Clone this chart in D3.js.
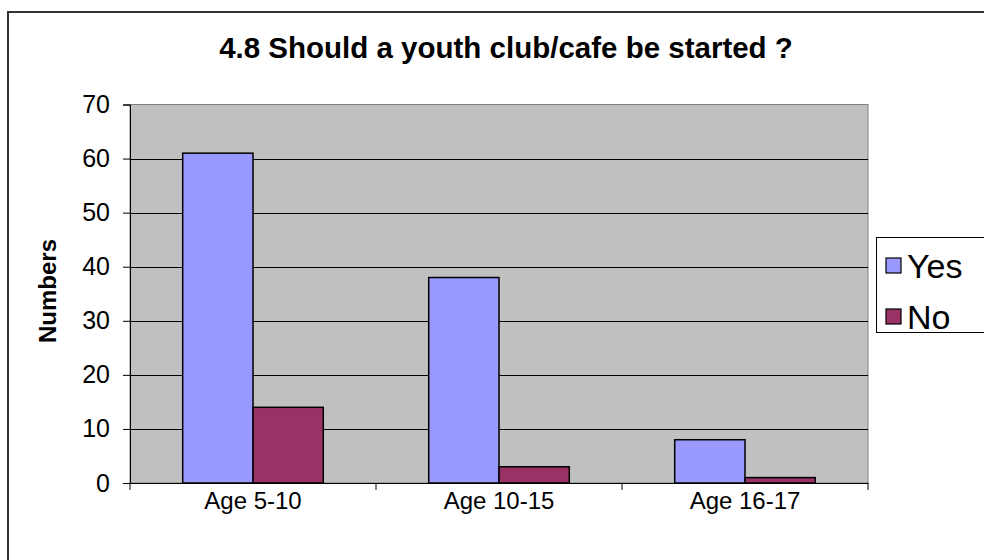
<!DOCTYPE html>
<html><head><meta charset="utf-8">
<script src="https://cdn.jsdelivr.net/npm/d3@7"></script>
<style>body{margin:0;background:#fff}svg{display:block}</style>
</head><body>
<svg id="c" width="984" height="560"></svg>
<script>
const categories = ["Age 5-10", "Age 10-15", "Age 16-17"];
const seriesNames = ["Yes", "No"];
const yesValues = [61, 38, 8];
const noValues = [14, 3, 1];
const yTicks = [0, 10, 20, 30, 40, 50, 60, 70];
const colors = {Yes: "#9999FF", No: "#993366"};

const svg = d3.select("#c");
const font = "Arial, 'Liberation Sans', sans-serif";

// outer chart border
svg.append("rect").attr("x", 8).attr("y", 12).attr("width", 1000).attr("height", 600)
  .attr("fill", "#fff").attr("stroke", "#333").attr("stroke-width", 2);

const plot = {left: 130, right: 868, top: 104.5, bottom: 483};
const x = d3.scaleBand().domain(categories).range([plot.left, plot.right]).paddingInner(0).paddingOuter(0);
const y = d3.scaleLinear().domain([0, 70]).range([plot.bottom, plot.top]);
const inner = d3.scaleBand().domain(seriesNames).range([0, x.bandwidth()]).paddingOuter(0.75).paddingInner(0);

svg.append("rect").attr("x", plot.left).attr("y", plot.top)
  .attr("width", plot.right - plot.left).attr("height", plot.bottom - plot.top)
  .attr("fill", "#C0C0C0").attr("stroke", "#808080").attr("stroke-width", 1);

// gridlines
svg.append("g").selectAll("line").data(yTicks.filter(d => d > 0 && d < 70)).join("line")
  .attr("x1", plot.left).attr("x2", plot.right)
  .attr("y1", d => Math.round(y(d)) + 0.5).attr("y2", d => Math.round(y(d)) + 0.5)
  .attr("stroke", "#000").attr("stroke-width", 1);

// bars
const data = [];
categories.forEach((c, i) => {
  data.push({cat: c, s: "Yes", v: yesValues[i]});
  data.push({cat: c, s: "No", v: noValues[i]});
});
svg.append("g").selectAll("rect").data(data).join("rect")
  .attr("x", d => x(d.cat) + inner(d.s))
  .attr("y", d => y(d.v))
  .attr("width", inner.bandwidth())
  .attr("height", d => y(0) - y(d.v))
  .attr("fill", d => colors[d.s])
  .attr("stroke", "#000").attr("stroke-width", 1.5);

// y axis
const yAxis = d3.axisLeft(y).tickValues(yTicks).tickSize(7).tickPadding(13);
const ya = svg.append("g").attr("transform", `translate(${plot.left},0)`).call(yAxis);
ya.select(".domain").attr("stroke", "#000");
ya.selectAll(".tick line").attr("stroke", "#000");
ya.selectAll(".tick text").attr("font-family", font).attr("font-size", 25).attr("fill", "#000");

// x axis
const xAxis = d3.axisBottom(x).tickSize(0).tickPadding(9);
const xa = svg.append("g").attr("transform", `translate(0,${plot.bottom})`).call(xAxis);
xa.select(".domain").attr("stroke", "#000");
xa.selectAll(".tick text").attr("font-family", font).attr("font-size", 24).attr("fill", "#000");
// category boundary ticks
const bounds = categories.map(c => x(c)).concat([plot.right]);
svg.append("g").selectAll("line").data(bounds).join("line")
  .attr("x1", d => d).attr("x2", d => d)
  .attr("y1", plot.bottom).attr("y2", plot.bottom + 7)
  .attr("stroke", "#000");

// title
svg.append("text").attr("x", 506).attr("y", 58).attr("text-anchor", "middle")
  .attr("font-family", font).attr("font-weight", "bold").attr("font-size", 29.5)
  .text("4.8 Should a youth club/cafe be started ?");

// y label
svg.append("text").attr("transform", "translate(56,291) rotate(-90)").attr("text-anchor", "middle")
  .attr("font-family", font).attr("font-weight", "bold").attr("font-size", 24)
  .text("Numbers");

// legend
const lg = svg.append("g");
lg.append("rect").attr("x", 876.5).attr("y", 237.5).attr("width", 200).attr("height", 95)
  .attr("fill", "#fff").attr("stroke", "#000");
seriesNames.forEach((s, i) => {
  const cy = 266 + i * 51;
  lg.append("rect").attr("x", 886).attr("y", cy - 8).attr("width", 15).attr("height", 15)
    .attr("fill", colors[s]).attr("stroke", "#000").attr("stroke-width", 1.2);
  lg.append("text").attr("x", 907).attr("y", cy + 12).attr("font-family", font)
    .attr("font-size", 34).text(s);
});
</script>
</body></html>
